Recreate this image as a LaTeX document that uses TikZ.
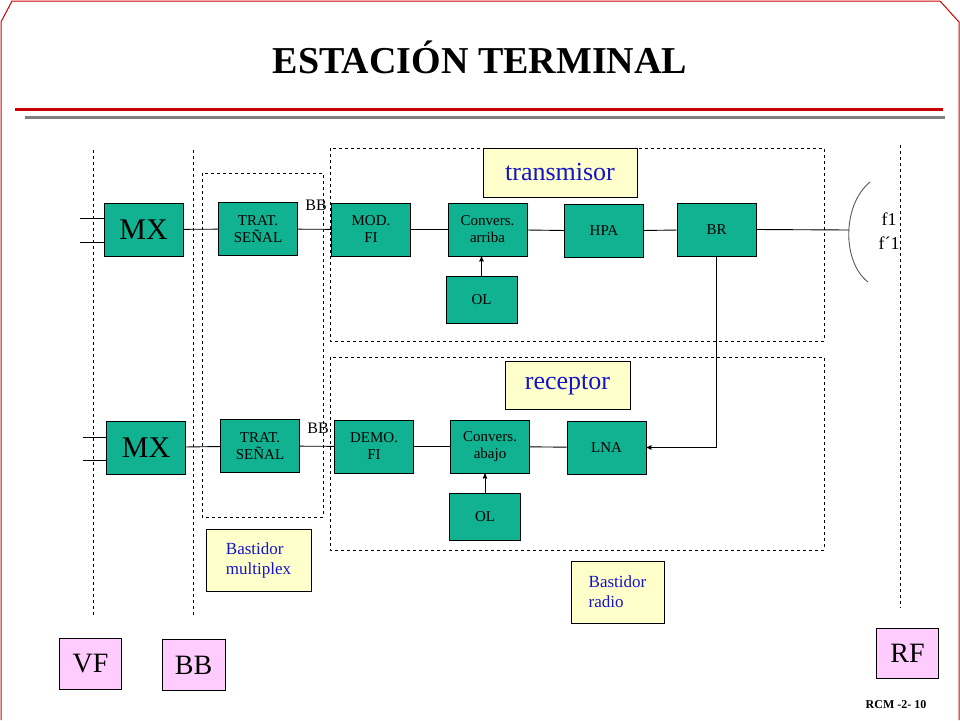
\documentclass[tikz,border=0pt]{standalone}
\usepackage{fontspec}
\setmainfont{Liberation Serif}
\usetikzlibrary{arrows}
\definecolor{boxgreen}{RGB}{16,178,146}
\definecolor{paleyellow}{RGB}{255,255,204}
\definecolor{palepink}{RGB}{255,204,255}
\definecolor{labelblue}{RGB}{20,20,200}
\begin{document}
\begin{tikzpicture}[x=1pt,y=-1pt,>=stealth',line width=0.9pt,
    block/.style={draw,fill=boxgreen,minimum width=79pt,minimum height=53pt,inner sep=0pt,align=center,font=\fontsize{15}{17}\selectfont},
    osc/.style={block,minimum width=71pt,minimum height=47pt},
    title box/.style={draw,fill=paleyellow,inner sep=0pt,text=labelblue,font=\fontsize{26}{28}\selectfont},
    note box/.style={draw,fill=paleyellow,inner sep=0pt,align=left,text=labelblue,font=\fontsize{17}{20}\selectfont},
    tag box/.style={draw,fill=palepink,inner sep=0pt,minimum width=62pt,minimum height=51pt,font=\fontsize{28}{30}\selectfont},
    frame/.style={dashed,line width=0.8pt}]
  \useasboundingbox (0,0) rectangle (960,720);

  % slide frame and title
  \draw[red!80!black,line width=1pt] (1,720) -- (1,22) -- (12,1) -- (940,1) -- (959,22) -- (959,720);
  \node[font=\fontsize{38}{40}\selectfont\bfseries] (title) at (480,57) {ESTACIÓN TERMINAL};
  \draw[red!80!black,line width=3pt] (15,109) -- (943,109);
  \draw[gray,line width=3pt] (25,117) -- (945,117);

  % dashed guides
  \draw[frame] (93,150) -- (93,615);
  \draw[frame] (193,150) -- (193,615);
  \draw[frame] (900,145) -- (900,608);
  \draw[frame] (202,173) rectangle (323,517);
  \draw[frame] (330,148) rectangle (824,341);
  \draw[frame] (330,357) rectangle (824,550);

  % transmit chain
  \node[block,font=\fontsize{30}{32}\selectfont] (mx1) at (143.5,229.5) {MX};
  \node[block] (trat1) at (258,229) {TRAT.\\SEÑAL};
  \node[block] (mod) at (371,229.5) {MOD.\\FI};
  \node[block] (up) at (487.5,229.5) {Convers.\\arriba};
  \node[block] (hpa) at (604,231) {HPA};
  \node[block] (br) at (716.5,229.5) {BR};
  \node[osc] (ol1) at (481.5,299.5) {OL};

  % receive chain
  \node[block,font=\fontsize{30}{32}\selectfont] (mx2) at (146,447.5) {MX};
  \node[block] (trat2) at (260,446) {TRAT.\\SEÑAL};
  \node[block] (demo) at (374,446.5) {DEMO.\\FI};
  \node[block] (down) at (490,446.5) {Convers.\\abajo};
  \node[block] (lna) at (606.5,447.5) {LNA};
  \node[osc] (ol2) at (485,516.5) {OL};

  % labels
  \node[title box,minimum width=154pt,minimum height=49pt] (tx) at (560,172.5) {transmisor};
  \node[title box,minimum width=125pt,minimum height=48pt] (rx) at (567.5,385) {receptor};
  \node[note box,minimum width=105pt,minimum height=62pt] (bmux) at (258.5,560) {Bastidor\\multiplex};
  \node[note box,minimum width=93pt,minimum height=62pt] (brad) at (617.5,592) {Bastidor\\radio};
  \node[tag box] (vf) at (90.5,664) {VF};
  \node[tag box,minimum width=63pt] (bb) at (193.5,665) {BB};
  \node[tag box,minimum height=50pt] (rf) at (907.5,653) {RF};
  \node[font=\fontsize{16}{18}\selectfont] (bb1) at (316,205) {BB};
  \node[font=\fontsize{16}{18}\selectfont] (bb2) at (318,428) {BB};
  \node[font=\fontsize{18}{20}\selectfont] (f1) at (889,219) {f1};
  \node[font=\fontsize{18}{20}\selectfont] (f2) at (889,243) {f´1};
  \node[font=\fontsize{12}{14}\selectfont\bfseries] (page) at (896,705) {RCM -2- 10};

  % connectors
  \coordinate (ant) at (849,230);
  \draw (80,218) -- (mx1.west |- 0,218);
  \draw (80,242) -- (mx1.west |- 0,242);
  \draw (83,437) -- (mx2.west |- 0,437);
  \draw (83,460) -- (mx2.west |- 0,460);
  \draw (mx1) -- (trat1);
  \draw (trat1) -- (mod);
  \draw (mod) -- (up);
  \draw (up) -- (hpa);
  \draw (hpa) -- (br);
  \draw (br.east) -- (ant);
  \draw[->] (ol1.north) -- (ol1.north |- up.south);
  \draw[->] (br.south) |- (lna.east);
  \draw (lna) -- (down);
  \draw (down) -- (demo);
  \draw (demo) -- (trat2);
  \draw (trat2) -- (mx2);
  \draw[->] (ol2.north) -- (ol2.north |- down.south);
  \draw[gray!70!black] (870,182) .. controls (842,205) and (842,262) .. (868,282);
\end{tikzpicture}
\end{document}
